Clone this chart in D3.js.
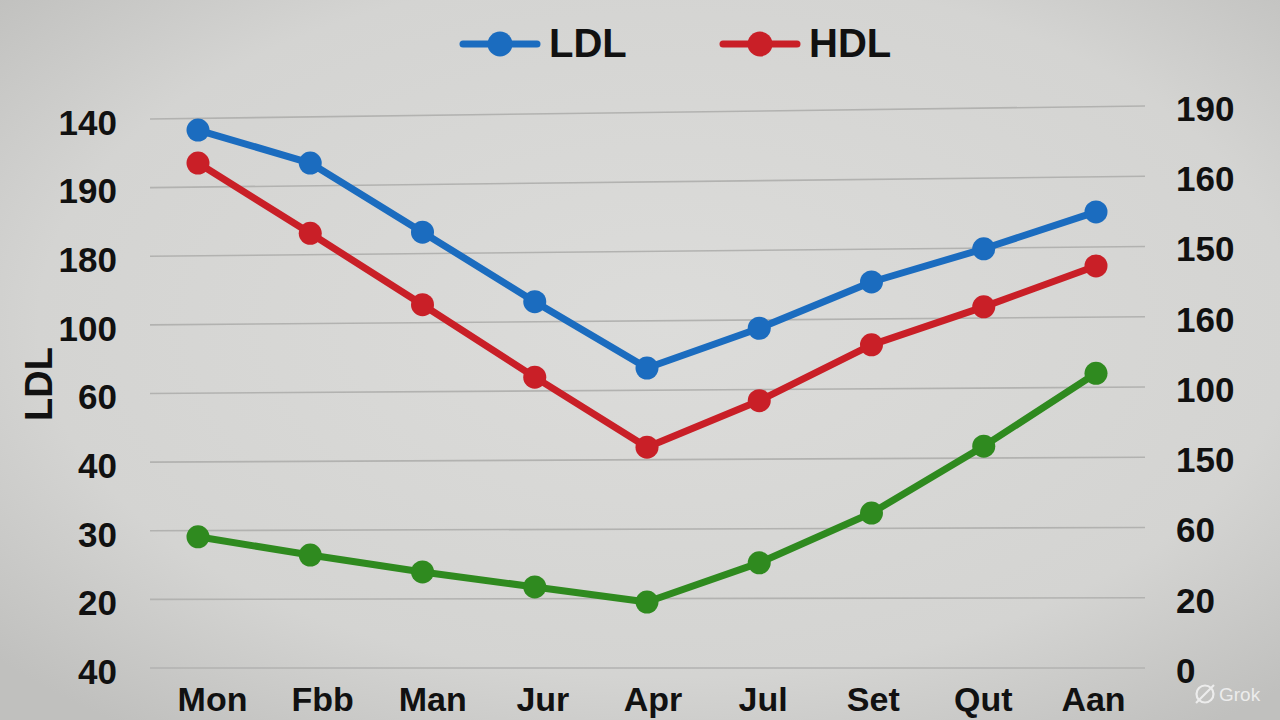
<!DOCTYPE html>
<html>
<head>
<meta charset="utf-8">
<script src="https://cdn.jsdelivr.net/npm/d3@7"></script>
<style>
  html, body { margin: 0; padding: 0; background: #d8d8d6; }
  svg { display: block; font-family: "Liberation Sans", Arial, sans-serif; }
  .tick-label { font-weight: bold; font-size: 35px; fill: #111; }
  .x-label { font-weight: bold; font-size: 34px; fill: #111; }
</style>
</head>
<body>
<div id="chart"></div>
<script>
// months along the bottom (as printed)
const months = ["Mon", "Fbb", "Man", "Jur", "Apr", "Jul", "Set", "Qut", "Aan"];

// values in gridline units (0 = bottom line, 8 = top line)
const ldlValues = [7.83, 7.33, 6.31, 5.29, 4.32, 4.88, 5.53, 5.99, 6.50];
const hdlValues = [7.35, 6.31, 5.26, 4.20, 3.18, 3.84, 4.63, 5.16, 5.73];
const greenValues = [1.91, 1.64, 1.39, 1.17, 0.95, 1.51, 2.22, 3.17, 4.20];

// tick labels, bottom to top
const leftTicks = ["40", "20", "30", "40", "60", "100", "180", "190", "140"];
const rightTicks = ["0", "20", "60", "150", "100", "160", "150", "160", "190"];

const series = [
    {name: "LDL", values: ldlValues, color: "#1b6cbf", legend: true},
    {name: "HDL", values: hdlValues, color: "#c91f27", legend: true},
    {name: "other", values: greenValues, color: "#2f8a1f", legend: false}
];

const W = 1280, H = 720;
const plot = {left: 150, right: 1145, bottom: 668};

const svg = d3.select("#chart").append("svg")
    .attr("width", W)
    .attr("height", H);

// background, slightly darker at the edges like a photo of a screen
const defs = svg.append("defs");
const grad = defs.append("radialGradient")
    .attr("id", "bg")
    .attr("cx", "52%").attr("cy", "45%").attr("r", "70%");
grad.append("stop").attr("offset", "0%").attr("stop-color", "#dcdcda");
grad.append("stop").attr("offset", "70%").attr("stop-color", "#d4d4d2");
grad.append("stop").attr("offset", "100%").attr("stop-color", "#c0c0be");
svg.append("rect").attr("width", W).attr("height", H).attr("fill", "url(#bg)");

// the picture is a little tilted: the top gridline sits higher on the right
const yLeft = d3.scaleLinear().domain([0, 8]).range([plot.bottom, 119]);
const yRight = d3.scaleLinear().domain([0, 8]).range([plot.bottom, 106]);
const t = d3.scaleLinear().domain([plot.left, plot.right]).range([0, 1]);
const yAt = (v, x) => d3.interpolateNumber(yLeft(v), yRight(v))(t(x));

const x = d3.scalePoint().domain(months).range([198, 1096]);
// the printed month names sit a little off the markers
const xLabel = d3.scalePoint().domain(months).range([212, 1093]);

// gridlines
svg.append("g").attr("class", "grid")
    .selectAll("line")
    .data(d3.range(9))
    .join("line")
    .attr("x1", plot.left)
    .attr("x2", plot.right)
    .attr("y1", d => yLeft(d))
    .attr("y2", d => yRight(d))
    .attr("stroke", "#b2b2b0")
    .attr("stroke-width", 1.6);

// left axis
const leftAxis = d3.axisLeft(yLeft)
    .tickValues(d3.range(9))
    .tickFormat(d => leftTicks[d])
    .tickSize(0)
    .tickPadding(0);
const gLeft = svg.append("g")
    .attr("transform", "translate(117,3)")
    .call(leftAxis);
gLeft.select(".domain").remove();
gLeft.selectAll("text").attr("class", "tick-label").attr("dy", "0.35em");

// right axis
const rightAxis = d3.axisRight(yRight)
    .tickValues(d3.range(9))
    .tickFormat(d => rightTicks[d])
    .tickSize(0)
    .tickPadding(0);
const gRight = svg.append("g")
    .attr("transform", "translate(1176,2)")
    .call(rightAxis);
gRight.select(".domain").remove();
gRight.selectAll("text").attr("class", "tick-label").attr("dy", "0.35em");

// bottom labels
const bottomAxis = d3.axisBottom(xLabel).tickSize(0).tickPadding(0);
const gBottom = svg.append("g")
    .attr("transform", "translate(0,711)")
    .call(bottomAxis);
gBottom.select(".domain").remove();
gBottom.selectAll("text").attr("class", "x-label").attr("dy", "0");

// y title
svg.append("text")
    .attr("transform", "translate(52,384) rotate(-90)")
    .attr("text-anchor", "middle")
    .style("font-weight", "bold")
    .style("font-size", "38px")
    .attr("fill", "#111")
    .text("LDL");

// lines + markers
const line = d3.line()
    .x(d => x(d.m))
    .y(d => yAt(d.v, x(d.m)));

series.forEach(s => {
    const pts = months.map((m, i) => ({m: m, v: s.values[i]}));
    svg.append("path")
        .datum(pts)
        .attr("fill", "none")
        .attr("stroke", s.color)
        .attr("stroke-width", 7)
        .attr("stroke-linejoin", "round")
        .attr("d", line);
    svg.append("g")
        .selectAll("circle")
        .data(pts)
        .join("circle")
        .attr("cx", d => x(d.m))
        .attr("cy", d => yAt(d.v, x(d.m)))
        .attr("r", 11.5)
        .attr("fill", s.color);
});

// legend
const legendX = [463, 723];
const legend = svg.append("g")
    .selectAll("g")
    .data(series.filter(s => s.legend))
    .join("g")
    .attr("transform", (d, i) => `translate(${legendX[i]},44)`);
legend.append("line")
    .attr("x1", 0).attr("x2", 74)
    .attr("stroke", d => d.color)
    .attr("stroke-width", 7)
    .attr("stroke-linecap", "round");
legend.append("circle")
    .attr("cx", 37).attr("r", 12.5)
    .attr("fill", d => d.color);
legend.append("text")
    .attr("x", 86).attr("y", 13)
    .style("font-weight", "bold")
    .style("font-size", "40px")
    .attr("fill", "#111")
    .text(d => d.name);

// watermark
const wm = svg.append("g").attr("transform", "translate(1205,694)").attr("opacity", 0.85);
wm.append("circle").attr("r", 8.5).attr("fill", "none").attr("stroke", "#f4f4f4").attr("stroke-width", 2.2);
wm.append("line").attr("x1", -9).attr("y1", 9).attr("x2", 9).attr("y2", -9)
    .attr("stroke", "#f4f4f4").attr("stroke-width", 2.2);
wm.append("text").attr("x", 14).attr("y", 7)
    .style("font-size", "19px").attr("fill", "#f4f4f4").text("Grok");
</script>
</body>
</html>
